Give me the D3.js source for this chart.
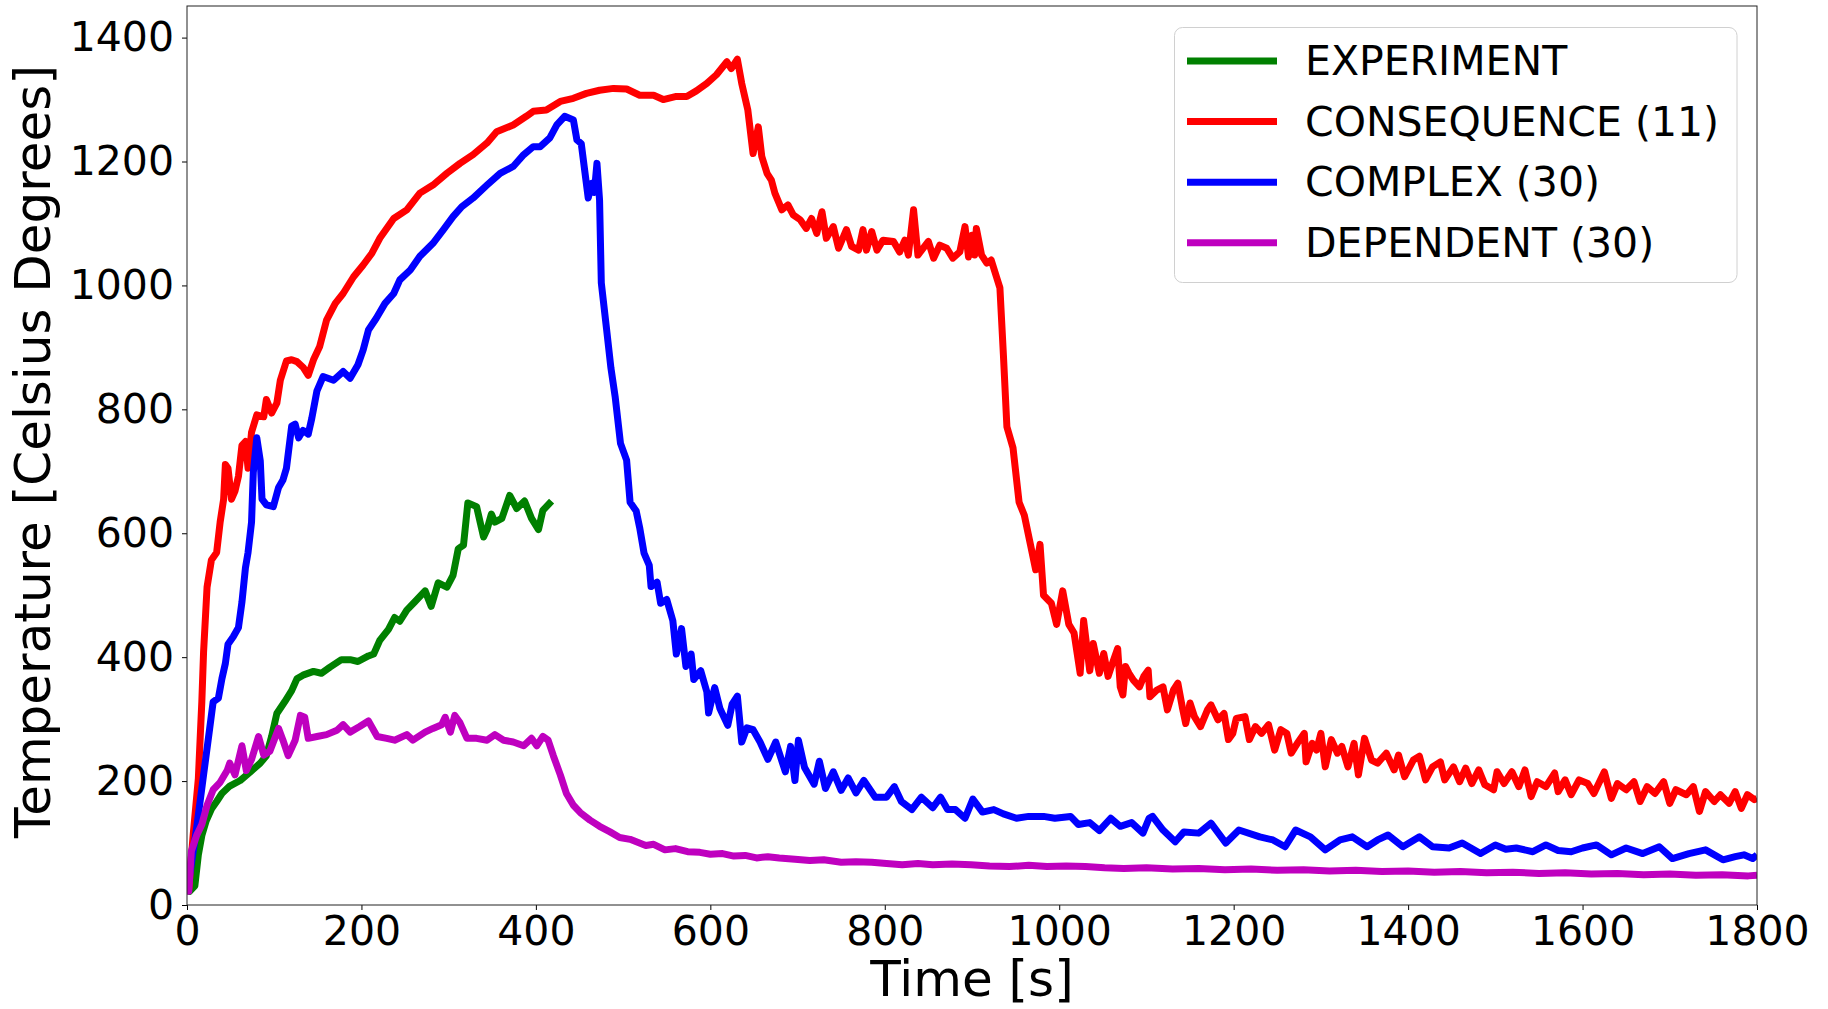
<!DOCTYPE html>
<html>
<head>
<meta charset="utf-8">
<script src="https://cdn.jsdelivr.net/npm/d3@7"></script>
<style>
html,body{margin:0;padding:0;background:#fff;}
svg{display:block;}
text{font-family:"DejaVu Sans",sans-serif;fill:#000;}
</style>
</head>
<body>
<svg id="chart" width="1828" height="1009"></svg>
<script>
// ---- data (time [s], temperature [°C]) ----
const seriesNames = ["EXPERIMENT", "CONSEQUENCE (11)", "COMPLEX (30)", "DEPENDENT (30)"];
const seriesColors = ["#008000", "#ff0000", "#0000ff", "#bf00bf"];
const xTicks = [0, 200, 400, 600, 800, 1000, 1200, 1400, 1600, 1800];
const yTicks = [0, 200, 400, 600, 800, 1000, 1200, 1400];

const experiment = [[0,30],[3,22],[9,31],[13,81],[17,112],[22,136],[28,155],[34,167],[40,180],[49,192],[61,201],[72,214],[84,229],[91,241],[97,272],[103,309],[112,328],[120,346],[126,365],[133,371],[145,377],[154,374],[164,384],[177,396],[187,396],[196,393],[208,402],[214,405],[221,427],[231,445],[238,464],[244,458],[252,476],[261,489],[273,507],[280,482],[288,520],[298,513],[305,532],[311,575],[317,581],[322,649],[332,643],[340,594],[344,606],[349,631],[353,618],[361,624],[370,661],[378,640],[387,652],[395,624],[403,606],[408,637],[418,652]];

const consequence = [[0,30],[2,25],[7,112],[13,204],[17,328],[19,408],[23,513],[28,557],[34,569],[38,618],[42,655],[44,711],[47,705],[51,655],[55,668],[59,692],[63,742],[67,748],[70,705],[74,763],[80,791],[88,788],[91,816],[97,794],[103,810],[107,847],[114,878],[120,880],[126,877],[133,868],[139,855],[145,880],[152,901],[160,944],[170,971],[179,987],[191,1014],[202,1033],[212,1052],[221,1076],[237,1108],[252,1122],[267,1149],[282,1162],[298,1181],[313,1197],[328,1211],[344,1230],[355,1248],[374,1259],[389,1273],[397,1281],[412,1283],[428,1297],[443,1302],[458,1310],[473,1315],[489,1318],[504,1317],[519,1307],[535,1307],[546,1300],[561,1305],[573,1305],[584,1314],[596,1326],[607,1340],[619,1361],[624,1350],[631,1365],[636,1326],[643,1283],[649,1213],[655,1256],[659,1208],[665,1181],[670,1170],[674,1149],[682,1122],[689,1130],[695,1114],[703,1106],[710,1092],[716,1108],[722,1084],[728,1119],[733,1076],[741,1095],[747,1060],[756,1090],[762,1063],[770,1057],[775,1090],[779,1057],[785,1087],[791,1057],[798,1073],[810,1071],[817,1054],[823,1073],[827,1049],[833,1122],[838,1049],[850,1071],[856,1044],[863,1065],[871,1060],[878,1044],[886,1054],[892,1095],[896,1046],[900,1081],[903,1049],[905,1092],[911,1049],[917,1036],[922,1041],[928,1014],[932,996],[936,888],[940,772],[947,738],[954,650],[960,629],[967,582],[973,541],[978,582],[982,500],[991,487],[997,453],[1004,507],[1011,453],[1017,439],[1024,374],[1028,459],[1035,378],[1039,422],[1046,374],[1051,406],[1056,369],[1061,390],[1067,414],[1070,352],[1073,339],[1076,385],[1080,374],[1085,363],[1092,352],[1097,369],[1102,379],[1104,336],[1112,347],[1119,352],[1124,315],[1131,347],[1136,358],[1141,320],[1145,293],[1150,326],[1155,304],[1162,288],[1170,315],[1174,323],[1182,299],[1189,309],[1194,267],[1199,277],[1203,301],[1213,304],[1218,267],[1225,288],[1232,277],[1240,291],[1247,250],[1254,283],[1261,277],[1266,245],[1273,261],[1281,277],[1283,231],[1290,261],[1295,250],[1300,277],[1305,223],[1312,267],[1319,245],[1324,256],[1331,223],[1338,261],[1343,210],[1350,269],[1358,234],[1365,229],[1375,245],[1384,218],[1389,242],[1396,207],[1406,234],[1413,240],[1420,202],[1428,223],[1437,231],[1442,202],[1452,223],[1459,199],[1466,221],[1473,196],[1481,218],[1488,194],[1498,186],[1502,215],[1510,196],[1519,215],[1527,191],[1534,218],[1541,175],[1548,199],[1558,191],[1568,213],[1572,183],[1580,202],[1587,178],[1596,202],[1606,196],[1613,180],[1625,215],[1633,172],[1640,196],[1650,186],[1659,199],[1666,167],[1674,191],[1683,180],[1693,199],[1700,164],[1707,186],[1719,178],[1727,191],[1734,151],[1741,183],[1751,167],[1758,178],[1768,164],[1775,183],[1782,156],[1789,178],[1797,170],[1800,172]];

const complex = [[0,40],[2,38],[11,124],[19,210],[26,285],[30,328],[36,334],[40,365],[44,390],[47,421],[53,433],[59,448],[63,489],[67,544],[70,569],[74,618],[76,698],[80,754],[84,717],[86,655],[91,646],[99,643],[105,674],[110,686],[114,705],[120,773],[124,776],[128,754],[133,766],[139,760],[143,785],[149,830],[156,853],[168,847],[179,861],[187,850],[196,872],[202,896],[208,928],[217,947],[227,971],[237,987],[244,1009],[256,1025],[267,1047],[282,1068],[294,1090],[305,1111],[315,1127],[328,1141],[344,1162],[359,1181],[374,1192],[386,1211],[397,1224],[405,1224],[416,1238],[424,1259],[433,1273],[443,1267],[447,1235],[452,1229],[460,1141],[464,1165],[467,1150],[470,1197],[473,1138],[475,1004],[481,930],[486,867],[491,819],[497,745],[504,718],[508,650],[515,636],[519,609],[524,568],[530,548],[532,514],[539,521],[543,487],[550,493],[557,459],[561,405],[567,446],[572,385],[578,405],[581,364],[589,378],[596,344],[598,310],[605,351],[611,317],[620,290],[625,324],[631,337],[636,263],[642,286],[649,283],[657,263],[666,235],[675,263],[686,215],[692,256],[697,201],[701,266],[708,222],[719,195],[725,232],[732,188],[741,215],[750,185],[758,205],[767,181],[776,201],[789,174],[802,174],[811,191],[819,167],[831,154],[842,174],[855,157],[864,174],[872,154],[881,154],[892,140],[901,171],[912,150],[925,154],[936,147],[951,140],[965,143],[982,143],[995,140],[1013,143],[1022,130],[1035,133],[1046,120],[1059,140],[1070,127],[1083,133],[1096,116],[1103,140],[1107,143],[1119,121],[1133,102],[1143,118],[1160,116],[1174,132],[1191,100],[1206,121],[1230,110],[1245,105],[1259,94],[1271,121],[1288,110],[1305,89],[1322,105],[1336,110],[1353,94],[1365,105],[1377,113],[1394,94],[1413,110],[1428,94],[1447,92],[1462,100],[1483,83],[1500,97],[1512,90],[1524,92],[1543,86],[1558,97],[1572,88],[1587,86],[1600,92],[1616,97],[1633,81],[1650,92],[1669,83],[1688,94],[1703,75],[1722,83],[1741,89],[1761,73],[1775,78],[1785,81],[1795,75],[1800,81]];

const dependent = [[0,22],[2,22],[5,87],[11,112],[17,130],[23,161],[30,186],[38,198],[46,217],[49,229],[55,210],[63,257],[68,217],[74,235],[82,272],[88,242],[95,248],[105,285],[110,266],[116,241],[124,266],[130,306],[135,303],[139,269],[149,272],[160,275],[172,282],[179,291],[187,279],[198,288],[208,297],[218,272],[229,269],[238,266],[252,275],[259,266],[273,279],[282,285],[292,291],[296,303],[302,279],[307,306],[313,294],[321,269],[332,269],[344,266],[353,275],[363,266],[374,263],[386,257],[395,269],[401,257],[408,272],[414,266],[420,241],[428,210],[435,180],[443,161],[451,149],[462,137],[473,127],[485,118],[496,109],[508,106],[526,96],[535,98],[548,89],[560,91],[574,86],[588,85],[600,82],[614,83],[627,79],[640,80],[653,76],[666,78],[679,76],[697,74],[714,72],[730,73],[750,69],[767,70],[785,69],[802,67],[820,65],[838,67],[855,65],[877,66],[899,65],[920,63],[943,62],[965,64],[986,62],[1008,63],[1030,62],[1052,60],[1074,59],[1100,60],[1130,58],[1160,59],[1190,57],[1220,58],[1250,56],[1280,57],[1310,55],[1340,56],[1370,54],[1400,55],[1430,53],[1460,54],[1490,52],[1520,53],[1550,51],[1580,52],[1610,50],[1640,51],[1670,49],[1700,50],[1730,48],[1760,49],[1790,47],[1800,48]];

const allSeries = [experiment, consequence, complex, dependent];

// ---- layout ----
const svg = d3.select("#chart");
const L = 187, R = 1757, T = 6, B = 905;
const x = d3.scaleLinear().domain([0, 1800]).range([L, R]);
const y = d3.scaleLinear().domain([0, 1451]).range([B, T]);
const tickFont = 41, labelFont = 50, lw = 7;

svg.append("defs").append("clipPath").attr("id", "clip")
  .append("rect").attr("x", L).attr("y", T).attr("width", R - L).attr("height", B - T);

const line = d3.line().x(d => x(d[0])).y(d => y(d[1]));

const plot = svg.append("g").attr("clip-path", "url(#clip)");
allSeries.forEach((s, i) => {
  plot.append("path").datum(s)
    .attr("d", line)
    .attr("fill", "none")
    .attr("stroke", seriesColors[i])
    .attr("stroke-width", lw)
    .attr("stroke-linejoin", "round")
    .attr("stroke-linecap", "butt");
});

// axes
const xAxis = svg.append("g").attr("transform", `translate(0,${B})`)
  .call(d3.axisBottom(x).tickValues(xTicks).tickFormat(d3.format("d")).tickSize(5).tickPadding(6).tickSizeOuter(0));
const yAxis = svg.append("g").attr("transform", `translate(${L},0)`)
  .call(d3.axisLeft(y).tickValues(yTicks).tickFormat(d3.format("d")).tickSize(5).tickPadding(8).tickSizeOuter(0));
[xAxis, yAxis].forEach(g => {
  g.select(".domain").remove();
  g.selectAll(".tick line").attr("stroke", "#000").attr("stroke-width", 1);
  g.selectAll(".tick text").style("font-size", tickFont + "px")
    .style("font-family", "'DejaVu Sans', sans-serif").attr("fill", "#000");
});

// frame
svg.append("rect").attr("x", L).attr("y", T).attr("width", R - L).attr("height", B - T)
  .attr("fill", "none").attr("stroke", "#222").attr("stroke-width", 1);

// axis labels
svg.append("text").attr("x", (L + R) / 2).attr("y", 996)
  .attr("text-anchor", "middle").style("font-size", labelFont + "px").text("Time [s]");
svg.append("text").attr("transform", `translate(50,${(T + B) / 2 - 4}) rotate(-90)`)
  .attr("text-anchor", "middle").style("font-size", labelFont + "px").text("Temperature [Celsius Degrees]");

// legend
const lg = svg.append("g");
lg.append("rect").attr("x", 1174.5).attr("y", 27.5).attr("width", 562.5).attr("height", 255)
  .attr("rx", 8).attr("ry", 8).attr("fill", "#fff").attr("fill-opacity", 0.8)
  .attr("stroke", "#d0d0d0").attr("stroke-width", 1);
seriesNames.forEach((n, i) => {
  const yy = 61 + i * 60.6;
  lg.append("line").attr("x1", 1187).attr("x2", 1277).attr("y1", yy).attr("y2", yy)
    .attr("stroke", seriesColors[i]).attr("stroke-width", lw);
  lg.append("text").attr("x", 1305).attr("y", yy + 14).style("font-size", tickFont + "px").text(n);
});
</script>
</body>
</html>
